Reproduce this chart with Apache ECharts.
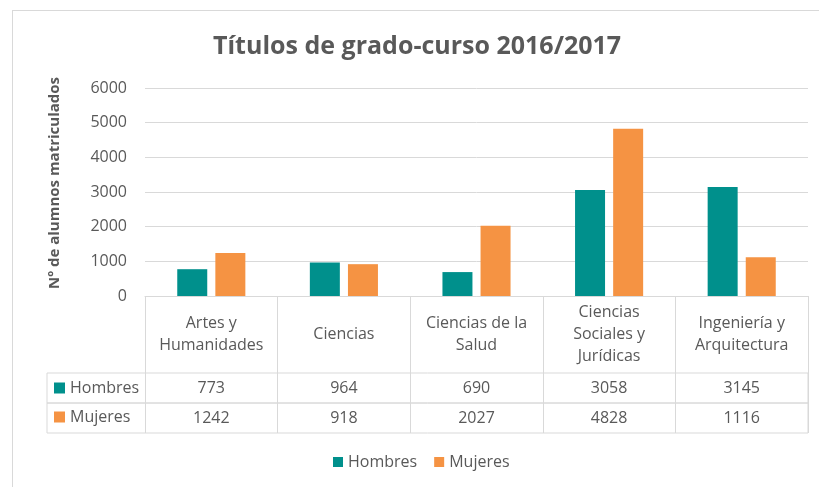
<!DOCTYPE html>
<html>
<head>
<meta charset="utf-8">
<title>Títulos de grado-curso 2016/2017</title>
<script src="https://cdn.jsdelivr.net/npm/echarts@6/dist/echarts.min.js"></script>
<style>
  html, body { margin: 0; padding: 0; background: #fff; }
  #frame {
    position: absolute; left: 12px; top: 10px; width: 830px; height: 500px;
    border: 1px solid #d9d9d9; box-sizing: border-box;
  }
  #chart { position: absolute; left: 0; top: 0; width: 819px; height: 487px; }
</style>
</head>
<body>
<div id="frame"></div>
<div id="chart"></div>
<script>
const categories = ['Artes y\nHumanidades', 'Ciencias', 'Ciencias de la\nSalud', 'Ciencias\nSociales y\nJurídicas', 'Ingeniería y\nArquitectura']
const hombres = [773, 964, 690, 3058, 3145]
const mujeres = [1242, 918, 2027, 4828, 1116]
const yTicks = [0, 1000, 2000, 3000, 4000, 5000, 6000]

const TEAL = '#00908c'
const ORANGE = '#f59343'
const TEXT = '#595959'
const LINE = '#d9d9d9'
const FONT = '"Open Sans", sans-serif'

const chart = echarts.init(document.getElementById('chart'), null, { renderer: 'canvas' })

// fila de tabla (solo el borde), ejes ocultos
const rowAxis = (grid) => ({ gridIndex: grid, type: 'category', data: [''], show: false })

chart.setOption({
  backgroundColor: 'transparent',
  animation: false,
  textStyle: { fontFamily: FONT },
  title: {
    text: 'Títulos de grado-curso 2016/2017',
    left: 208,
    top: 29,
    textStyle: { fontFamily: FONT, fontSize: 25, fontWeight: 'bold', color: TEXT }
  },
  legend: [
    {
      data: ['Hombres', 'Mujeres'],
      left: 328,
      top: 447,
      icon: 'rect',
      itemWidth: 10,
      itemHeight: 10,
      itemGap: 17,
      selectedMode: false,
      textStyle: { fontFamily: FONT, fontSize: 16, color: TEXT, lineHeight: 20 }
    },
    {
      // claves de la tabla de datos
      data: ['Hombres', 'Mujeres'],
      orient: 'vertical',
      left: 49,
      top: 373,
      icon: 'rect',
      itemWidth: 11,
      itemHeight: 11,
      itemGap: 9,
      selectedMode: false,
      textStyle: { fontFamily: FONT, fontSize: 16, color: TEXT, lineHeight: 20 }
    }
  ],
  grid: [
    { left: 145, right: 11, top: 88, bottom: 191 },
    { left: 47, right: 11, top: 373, height: 30, show: true, borderColor: LINE, borderWidth: 1 },
    { left: 47, right: 11, top: 403, height: 30, show: true, borderColor: LINE, borderWidth: 1 }
  ],
  xAxis: [
    {
      gridIndex: 0,
      type: 'category',
      data: categories,
      axisLine: { lineStyle: { color: LINE } },
      axisTick: { show: true, length: 137, interval: 0, lineStyle: { color: LINE } },
      axisLabel: {
        interval: 0, margin: 38, verticalAlign: 'middle', lineHeight: 22,
        fontSize: 16, color: TEXT, fontFamily: FONT
      }
    },
    {
      gridIndex: 0,
      type: 'category',
      position: 'bottom',
      data: hombres.map(String),
      axisLine: { show: false },
      axisTick: { show: false },
      axisLabel: { interval: 0, margin: 92, verticalAlign: 'middle', fontSize: 16, color: TEXT, fontFamily: FONT }
    },
    {
      gridIndex: 0,
      type: 'category',
      position: 'bottom',
      data: mujeres.map(String),
      axisLine: { show: false },
      axisTick: { show: false },
      axisLabel: { interval: 0, margin: 122, verticalAlign: 'middle', fontSize: 16, color: TEXT, fontFamily: FONT }
    },
    rowAxis(1),
    rowAxis(2)
  ],
  yAxis: [
    {
      gridIndex: 0,
      type: 'value',
      min: yTicks[0],
      max: yTicks[yTicks.length - 1],
      interval: 1000,
      name: 'Nº de alumnos matriculados',
      nameLocation: 'middle',
      nameGap: 83,
      nameTextStyle: { fontFamily: FONT, fontSize: 15, fontWeight: 'bold', color: TEXT, padding: [0, 0, 0, 18] },
      axisLine: { show: false },
      axisTick: { show: false },
      axisLabel: { margin: 18, fontSize: 16, color: TEXT, fontFamily: FONT, formatter: (v) => String(v) },
      splitLine: { lineStyle: { color: LINE } }
    },
    { gridIndex: 1, type: 'value', show: false },
    { gridIndex: 2, type: 'value', show: false }
  ],
  series: [
    {
      name: 'Hombres',
      type: 'bar',
      xAxisIndex: 0,
      yAxisIndex: 0,
      data: hombres,
      barWidth: 30,
      barGap: '27%',
      itemStyle: { color: TEAL }
    },
    {
      name: 'Mujeres',
      type: 'bar',
      xAxisIndex: 0,
      yAxisIndex: 0,
      data: mujeres,
      barWidth: 30,
      barGap: '27%',
      itemStyle: { color: ORANGE }
    }
  ]
})
</script>
</body>
</html>
